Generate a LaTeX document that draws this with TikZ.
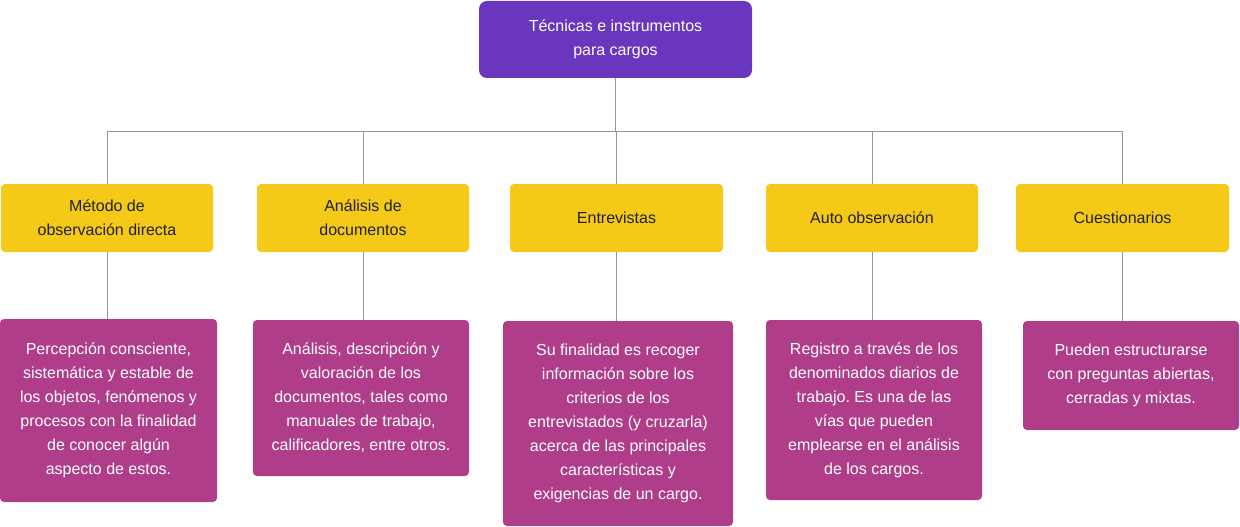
\documentclass[tikz,border=0pt]{standalone}
\usepackage{fontspec}
\setmainfont{Liberation Sans}
\frenchspacing
\definecolor{morado}{RGB}{105,54,189}
\definecolor{amarillo}{RGB}{245,201,24}
\definecolor{magenta}{RGB}{176,61,137}
\definecolor{tinta}{RGB}{33,33,33}
\definecolor{gris}{RGB}{150,150,150}
\begin{document}
\begin{tikzpicture}[x=1pt,y=-1pt,
  titulo/.style={fill=morado,text=white,rounded corners=8pt,inner sep=0pt,
    minimum width=273pt,minimum height=77pt,align=center,
    font=\fontsize{16}{24}\selectfont},
  tecnica/.style={fill=amarillo,text=tinta,rounded corners=4pt,inner sep=0pt,
    minimum width=212pt,minimum height=68pt,align=center,
    font=\fontsize{16}{24}\selectfont},
  detalle/.style={fill=magenta,text=white,rounded corners=4pt,inner sep=0pt,
    minimum width=216pt,align=center,font=\fontsize{16}{24}\selectfont},
  linea/.style={draw=gris,line width=1pt}]

\useasboundingbox (0,0) rectangle (1240,527);

\node[titulo] (top) at (615.5,39.5) {Técnicas e instrumentos\\para cargos};
\coordinate (bus) at (0,131);

\node[tecnica] (t1) at (107,218) {Método de\\observación directa};
\node[tecnica] (t2) at (363,218) {Análisis de\\documentos};
\node[tecnica,minimum width=213pt] (t3) at (616.5,218) {Entrevistas};
\node[tecnica] (t4) at (872,218) {Auto observación};
\node[tecnica,minimum width=213pt] (t5) at (1122.5,218) {Cuestionarios};

\node[detalle,minimum width=217pt,minimum height=183pt] (d1) at (108.5,410.5)
  {Percepción consciente,\\sistemática y estable de\\los objetos, fenómenos y\\procesos con la finalidad\\de conocer algún\\aspecto de estos.};
\node[detalle,minimum height=156pt] (d2) at (361,398)
  {Análisis, descripción y\\valoración de los\\documentos, tales como\\manuales de trabajo,\\calificadores, entre otros.};
\node[detalle,minimum width=230pt,minimum height=205pt] (d3) at (618,423.5)
  {Su finalidad es recoger\\información sobre los\\criterios de los\\entrevistados (y cruzarla)\\acerca de las principales\\características y\\exigencias de un cargo.};
\node[detalle,minimum height=180pt] (d4) at (874,410)
  {Registro a través de los\\denominados diarios de\\trabajo. Es una de las\\vías que pueden\\emplearse en el análisis\\de los cargos.};
\node[detalle,minimum height=109pt] (d5) at (1131,375.5)
  {Pueden estructurarse\\con preguntas abiertas,\\cerradas y mixtas.};

% conectores
\draw[linea] (top.south) -- (top.south |- bus);
\draw[linea] (t1.north |- bus) -- (t5.north |- bus);
\foreach \i in {1,...,5}{
  \draw[linea] (t\i.north |- bus) -- (t\i.north);
  \draw[linea] (t\i.south) -- (t\i.south |- d\i.north);
}

\end{tikzpicture}
\end{document}
